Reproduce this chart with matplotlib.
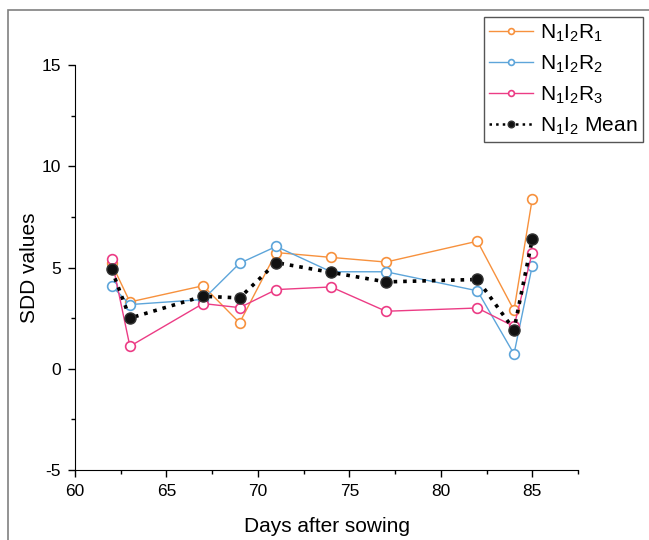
import matplotlib.pyplot as plt
from matplotlib.patches import Rectangle
from matplotlib.ticker import MultipleLocator

plt.rcParams['font.family'] = ['Liberation Sans', 'DejaVu Sans']
plt.rcParams['mathtext.default'] = 'regular'
plt.rcParams['axes.unicode_minus'] = False

DAYS = [62, 63, 67, 69, 71, 74, 77, 82, 84, 85]
R1 = [5.2, 3.3, 4.1, 2.27, 5.74, 5.5, 5.27, 6.3, 2.89, 8.4]
R2 = [4.1, 3.17, 3.42, 5.21, 6.04, 4.79, 4.79, 3.85, 0.73, 5.09]
R3 = [5.42, 1.11, 3.22, 3.02, 3.91, 4.04, 2.84, 3.0, 2.09, 5.74]
MEAN = [4.91, 2.5, 3.58, 3.5, 5.24, 4.76, 4.29, 4.41, 1.93, 6.4]

LABELS = [r'N$_1$I$_2$R$_1$', r'N$_1$I$_2$R$_2$', r'N$_1$I$_2$R$_3$', r'N$_1$I$_2$ Mean']
COLORS = ['#F7913D', '#5DA5DA', '#EC3C85']

fig = plt.figure(figsize=(6.49, 5.40), dpi=100)
ax = fig.add_axes([0.1156, 0.1296, 0.775, 0.75])

# thin gray frame around the figure
fig.patches.append(Rectangle((8 / 649, -0.01), 1.0, 1 - 10 / 540 + 0.01, transform=fig.transFigure,
                             fill=False, edgecolor='#808080', linewidth=1.2, zorder=0))

for vals, col, lab in zip([R1, R2, R3], COLORS, LABELS[:3]):
    ax.plot(DAYS, vals, color=col, linewidth=1, marker='o', markersize=7,
            markerfacecolor='white', markeredgecolor=col, markeredgewidth=1.2, label=lab)
ax.plot(DAYS, MEAN, color='black', linestyle=':', linewidth=2.6, marker='o', markersize=8,
        markerfacecolor='#111111', markeredgecolor='#333333', label=LABELS[3], zorder=5)

ax.set_xlim(60, 87.5)
ax.set_ylim(-5, 15)
ax.xaxis.set_major_locator(MultipleLocator(5))
ax.xaxis.set_minor_locator(MultipleLocator(2.5))
ax.yaxis.set_major_locator(MultipleLocator(5))
ax.yaxis.set_minor_locator(MultipleLocator(2.5))
ax.tick_params(which='major', direction='out', length=5, width=1, labelsize=12.5, pad=5)
ax.tick_params(which='minor', direction='out', length=3, width=1)
ax.spines['top'].set_visible(False)
ax.spines['right'].set_visible(False)
ax.set_xlabel('Days after sowing', fontsize=15, labelpad=13)
ax.set_ylabel('SDD values', fontsize=15, labelpad=2)

leg = fig.legend(loc='upper right', bbox_to_anchor=(643 / 649, 1 - 17 / 540), fontsize=15,
                 fancybox=False, edgecolor='#555555', framealpha=1, handlelength=2.1,
                 borderpad=0.25, labelspacing=0.47, handletextpad=0.35, borderaxespad=0,
                 markerscale=0.6)
leg.get_frame().set_linewidth(1)
for h in leg.legend_handles[3:]:
    h.set_linewidth(1.8)

fig.savefig('out.png', dpi=100)
